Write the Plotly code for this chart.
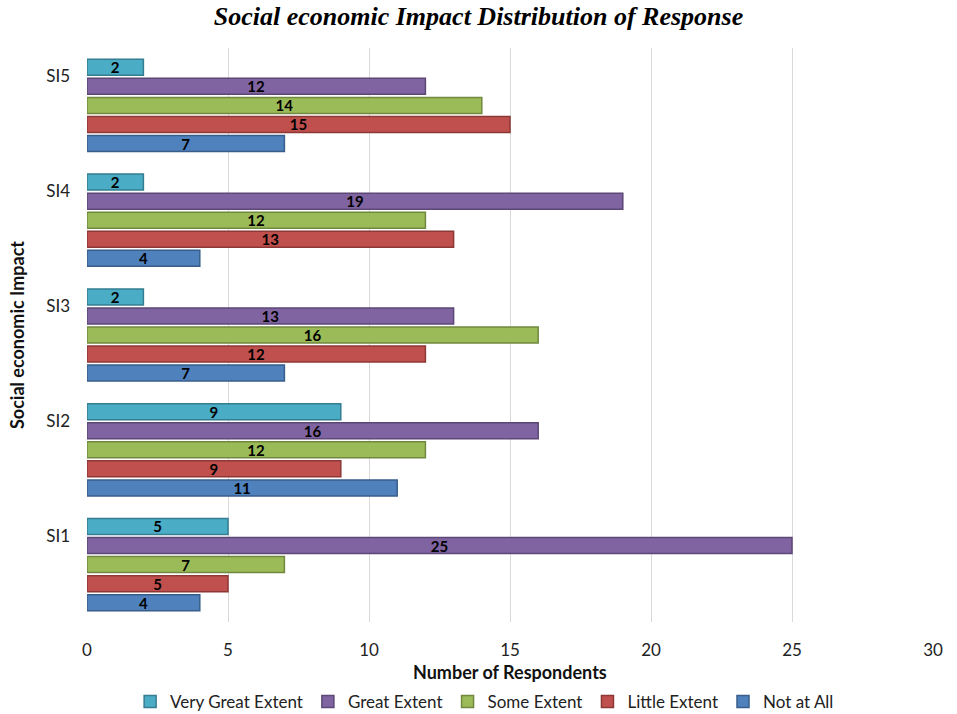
import plotly.graph_objects as go

categories = ["SI1", "SI2", "SI3", "SI4", "SI5"]

not_at_all = [4, 11, 7, 4, 7]
little_extent = [5, 9, 12, 13, 15]
some_extent = [7, 12, 16, 12, 14]
great_extent = [25, 16, 13, 19, 12]
very_great_extent = [5, 9, 2, 2, 2]

series = [
    ("Not at All", not_at_all, "#4F81BD", "#385D8A"),
    ("Little Extent", little_extent, "#C0504D", "#8C3836"),
    ("Some Extent", some_extent, "#9BBB59", "#71893F"),
    ("Great Extent", great_extent, "#8064A2", "#5C4776"),
    ("Very Great Extent", very_great_extent, "#4BACC6", "#357D91"),
]

fig = go.Figure()
for name, vals, color, edge in series:
    fig.add_trace(go.Bar(
        y=categories, x=vals, name=name, orientation="h",
        marker=dict(color=color, line=dict(color=edge, width=1.5)),
        text=[str(v) for v in vals], textposition="inside", textangle=0,
        insidetextanchor="middle",
        textfont=dict(family="Lato", size=15, color="black", weight="bold"),
    ))

fig.update_layout(
    width=957, height=714,
    barmode="group", bargap=0.17, bargroupgap=0.16,
    paper_bgcolor="white", plot_bgcolor="white",
    margin=dict(l=87, r=24, t=48, b=92, autoexpand=False),
    title=dict(
        text="<b><i>Social economic Impact Distribution of Response</i></b>",
        font=dict(family="Liberation Serif", size=26, color="black"),
        x=0.5, xanchor="center", y=0.99, yanchor="top",
    ),
    uniformtext=dict(minsize=15, mode="show"),
    legend=dict(
        orientation="h", traceorder="reversed",
        x=0.47, xanchor="center", y=-0.108, yanchor="top",
        font=dict(family="Lato", size=17, color="#222"),
        itemwidth=30, tracegroupgap=0,
    ),
    font=dict(family="Lato", color="#222"),
    annotations=[dict(
        text="<b>Number of Respondents</b>", xref="paper", yref="paper",
        x=0.5, y=-0.087, xanchor="center", yanchor="middle", showarrow=False,
        font=dict(family="Lato", size=18, color="#111"),
    )],
)

fig.update_xaxes(
    range=[0, 30], dtick=5, showgrid=True, gridcolor="#D9D9D9", gridwidth=1,
    zeroline=False, showline=False, ticks="", ticklabelstandoff=16, automargin=False,
    tickfont=dict(family="Lato", size=17, color="#222"),
)
fig.update_yaxes(
    showgrid=False, showline=False, ticks="", ticklabelstandoff=16, ticklabelshift=-29,
    automargin=False,
    tickfont=dict(family="Lato", size=17, color="#222"),
    title=dict(text="<b>Social economic Impact</b>", font=dict(family="Lato", size=18, color="#111"), standoff=16),
)

fig.write_html("out.html")
